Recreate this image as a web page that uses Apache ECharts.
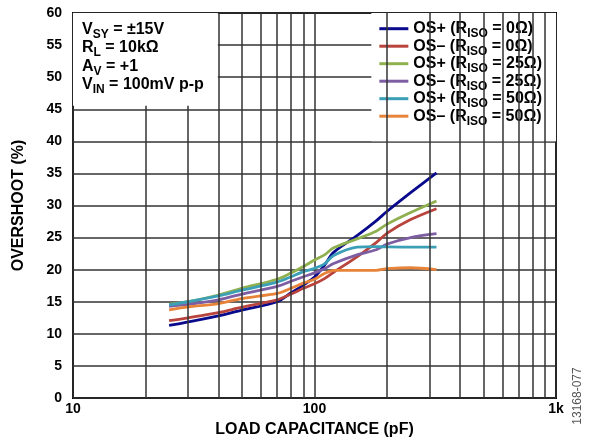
<!DOCTYPE html>
<html>
<head>
<meta charset="utf-8">
<script src="https://cdn.jsdelivr.net/npm/echarts@6/dist/echarts.min.js"></script>
<style>
  html, body { margin: 0; padding: 0; background: #fff; }
  #chart { width: 592px; height: 447px; }
</style>
</head>
<body>
<div id="chart"></div>
<script>
// load capacitance (pF) sample points
const capacitance = [25, 30, 40, 50, 70, 80, 90, 100, 110, 120, 150, 180, 200, 250, 320];

// overshoot (%)
const osPlus0   = [11.3, 11.85, 12.8, 13.7, 15.0, 16.4, 17.6, 18.85, 20.7, 22.7, 25.3, 27.6, 29.1, 32.0, 35.1];
const osMinus0  = [12.05, 12.5, 13.3, 14.15, 15.3, 16.2, 17.1, 17.8, 18.6, 19.6, 22.0, 24.2, 25.7, 27.8, 29.5];
const osPlus25  = [14.6, 15.0, 16.05, 17.1, 18.5, 19.5, 20.5, 21.5, 22.3, 23.4, 24.8, 26.0, 27.1, 28.9, 30.7];
const osMinus25 = [14.3, 14.6, 15.3, 16.2, 17.4, 18.2, 18.9, 19.5, 20.15, 20.95, 22.3, 23.1, 24.0, 25.0, 25.6];
const osPlus50  = [14.5, 15.0, 15.9, 16.8, 18.05, 18.9, 19.7, 20.2, 20.9, 22.2, 23.5, 23.6, 23.55, 23.5, 23.5];
const osMinus50 = [13.75, 14.2, 14.7, 15.5, 16.3, 17.1, 17.9, 18.5, 19.4, 19.9, 19.9, 19.9, 20.15, 20.3, 20.0];

const seriesNames = [
  "OS+ (RISO = 0Ω)", "OS– (RISO = 0Ω)",
  "OS+ (RISO = 25Ω)", "OS– (RISO = 25Ω)",
  "OS+ (RISO = 50Ω)", "OS– (RISO = 50Ω)"
];
const seriesValues = [osPlus0, osMinus0, osPlus25, osMinus25, osPlus50, osMinus50];
const seriesColors = ["#0a0a8c", "#b8443d", "#8fb04e", "#7d5ea3", "#3b9fb8", "#e7843a"];

// minor log grid lines 20..90, 200..900
const minorGridCaps = [20, 30, 40, 50, 60, 70, 80, 90, 200, 300, 400, 500, 600, 700, 800, 900];

const yTicks = { min: 0, max: 60, interval: 5 };
const annotationLines = [
  ["V", "SY", " = ±15V"],
  ["R", "L", " = 10kΩ"],
  ["A", "V", " = +1"],
  ["V", "IN", " = 100mV p-p"]
];

const FONT = "'Liberation Sans', Arial, sans-serif";
const chart = echarts.init(document.getElementById("chart"), null, { renderer: "canvas" });

// subscript: shifted down with a padding that does not change the row height
const subStyle = { fontSize: 12, fontWeight: "bold", fontFamily: FONT, color: "#000", padding: [5, 0, -5, 0], verticalAlign: "middle" };
const mainStyle = { fontSize: 16, fontWeight: "bold", fontFamily: FONT, color: "#000", verticalAlign: "middle" };

const annotationText = annotationLines
  .map(l => `{m|${l[0]}}{s|${l[1]}}{m|${l[2]}}`)
  .join("\n");

const series = seriesNames.map((name, i) => ({
  name: name,
  type: "line",
  data: capacitance.map((c, j) => [c, seriesValues[i][j]]),
  smooth: 0.3,
  showSymbol: false,
  symbol: "none",
  z: 3,
  lineStyle: { color: seriesColors[i], width: 2.8 },
  itemStyle: { color: seriesColors[i] }
}));

// holder series for the minor vertical grid
series.unshift({
  name: "grid",
  type: "line",
  data: [],
  z: 1,
  markLine: {
    silent: true,
    symbol: "none",
    label: { show: false },
    lineStyle: { color: "#333", width: 1.5, type: "solid" },
    data: minorGridCaps.map(v => ({ xAxis: v }))
  }
});

const option = {
  animation: false,
  grid: {
    left: 73, right: 36, top: 13, bottom: 49,
    containLabel: false, outerBoundsMode: "none",
    show: true, borderColor: "#000", borderWidth: 2
  },
  title: {
    text: annotationText,
    left: 73,
    top: 13,
    padding: [7, 14, 10, 9],
    backgroundColor: "#fff",
    textStyle: {
      lineHeight: 18.5,
      rich: {
        m: Object.assign({}, mainStyle, { lineHeight: 18.5 }),
        s: Object.assign({}, subStyle, { lineHeight: 18.5 })
      }
    }
  },
  legend: {
    data: seriesNames,
    orient: "vertical",
    right: 36,
    top: 13,
    padding: [7, 14, 14, 8],
    itemGap: -2.2,
    itemWidth: 29,
    itemHeight: 3,
    icon: "rect",
    backgroundColor: "#fff",
    formatter: name => {
      const parts = name.split("RISO");
      return `{m|${parts[0]}R}{s|ISO}{m|${parts[1]}}`;
    },
    textStyle: {
      fontSize: 16, fontWeight: "bold", fontFamily: FONT, color: "#000", lineHeight: 17.4,
      rich: {
        m: Object.assign({}, mainStyle, { lineHeight: 17.4 }),
        s: Object.assign({}, subStyle, { lineHeight: 17.4 })
      }
    }
  },
  xAxis: {
    type: "log",
    logBase: 10,
    min: 10,
    max: 1000,
    name: "LOAD CAPACITANCE (pF)",
    nameLocation: "middle",
    nameGap: 24,
    nameTextStyle: { fontSize: 16, fontWeight: "bold", fontFamily: FONT, color: "#000" },
    axisLine: { show: false },
    axisTick: { show: false },
    axisLabel: {
      fontSize: 14, fontWeight: "bold", fontFamily: FONT, color: "#000", margin: 4,
      formatter: v => (v >= 1000 ? "1k" : String(v))
    },
    splitLine: { show: true, lineStyle: { color: "#333", width: 1.5 } }
  },
  yAxis: {
    type: "value",
    min: yTicks.min,
    max: yTicks.max,
    interval: yTicks.interval,
    name: "OVERSHOOT (%)",
    nameLocation: "middle",
    nameGap: 46,
    nameTextStyle: { fontSize: 16, fontWeight: "bold", fontFamily: FONT, color: "#000" },
    axisLine: { show: false },
    axisTick: { show: false },
    axisLabel: { fontSize: 14, fontWeight: "bold", fontFamily: FONT, color: "#000", margin: 11 },
    splitLine: { show: true, lineStyle: { color: "#333", width: 1.5 } }
  },
  graphic: [{
    type: "text",
    x: 578,
    y: 396,
    rotation: Math.PI / 2,
    style: {
      text: "13168-077",
      fontSize: 12,
      fontFamily: FONT,
      fill: "#555",
      textAlign: "center",
      textVerticalAlign: "middle"
    }
  }],
  series: series
};

chart.setOption(option);
window.addEventListener("resize", () => chart.resize());
</script>
</body>
</html>
